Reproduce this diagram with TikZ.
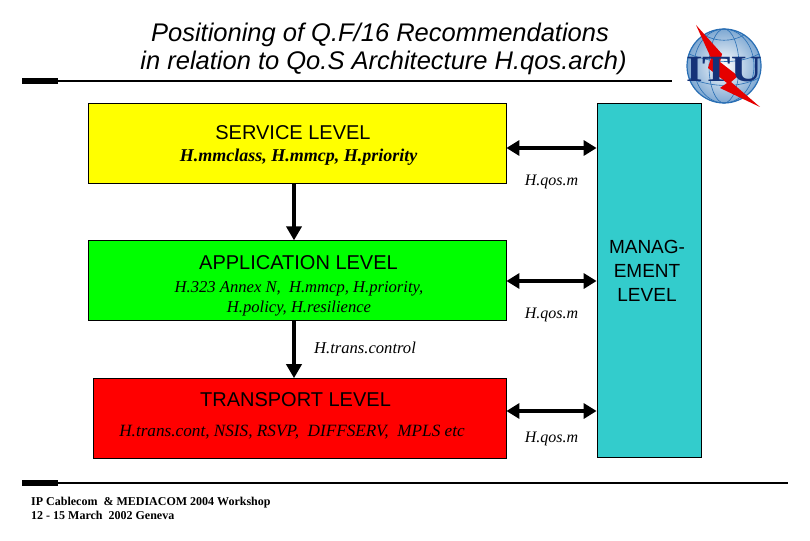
\documentclass[tikz,border=0pt]{standalone}
\usepackage{fontspec}
\setmainfont{Liberation Serif}
\setsansfont{Liberation Sans}
\usetikzlibrary{
arrows.meta,
positioning
}
\definecolor{mgmtcyan}{RGB}{51,204,204}
\definecolor{levelgreen}{RGB}{0,255,0}
\definecolor{levelyellow}{RGB}{255,255,0}
\definecolor{levelred}{RGB}{255,0,0}
\definecolor{itublue}{RGB}{40,110,180}
\definecolor{itunavy}{RGB}{20,50,120}
\tikzset{
  levelbox/.style={shape=rectangle,draw=black,line width=0.8pt,minimum height=80pt,inner sep=0pt},
  leveltitle/.style={font=\sffamily\fontsize{20}{24}\selectfont,inner sep=0pt},
  levelnote/.style={font=\itshape\fontsize{16.6}{20}\selectfont,align=center,inner sep=0pt},
  qosnote/.style={font=\itshape\fontsize{16}{19}\selectfont,inner sep=0pt},
  bothway/.style={{Triangle[width=15pt,length=13pt]}-{Triangle[width=15pt,length=13pt]},line width=4.5pt},
  downway/.style={-{Triangle[width=15pt,length=14pt]},line width=4.5pt},
  rulebar/.style={line width=2pt}
}
\begin{document}
\begin{tikzpicture}[x=1pt,y=-1pt]
    \useasboundingbox (0,0) rectangle (810,540);
    \fill[white] (0,0) rectangle (810,540);
    % title
    \node (title) [font=\sffamily\itshape\fontsize{25.5}{28}\selectfont,align=center,inner sep=0pt] at (383.5,49) {\hspace*{-7pt}Positioning of Q.F/16 Recommendations\\in relation to Qo.S Architecture H.qos.arch)};
    \coordinate (rulea) at (22,81);
    \coordinate (ruleb) at (672,81);
    \draw[rulebar] (rulea) -- (ruleb);
    \fill (22,78) rectangle (58,84);
    % levels
    \node [levelbox,fill=levelyellow,minimum width=418pt] (service) at (297,143) {};
    \node [levelbox,fill=levelgreen,minimum width=418pt,below = 57pt of service] (application) {};
    \node [levelbox,fill=levelred,minimum width=413pt,below = 57pt of application,xshift=2.5pt] (transport) {};
    \node [levelbox,fill=mgmtcyan,minimum width=104pt,minimum height=354pt] (mgmt) at (649,280) {};
    \node [leveltitle] (servicetitle) at (293,133) {SERVICE LEVEL};
    \node [levelnote,font=\bfseries\itshape\fontsize{18}{20}\selectfont] (servicenote) at (298.5,157) {H.mmclass, H.mmcp, H.priority};
    \node [leveltitle] (applicationtitle) at (298.5,263) {APPLICATION LEVEL};
    \node [levelnote] (applicationnote) at (299,298.5) {H.323 Annex N,\ \ H.mmcp, H.priority,\\H.policy, H.resilience};
    \node [leveltitle] (transporttitle) at (295.5,400) {TRANSPORT LEVEL};
    \node [levelnote,font=\itshape\fontsize{17.2}{20}\selectfont] (transportnote) at (292,432) {H.trans.cont, NSIS, RSVP,\ \ DIFFSERV,\ \ MPLS etc};
    \node [font=\sffamily\fontsize{19}{24}\selectfont,align=center,inner sep=0pt] (mgmttitle) at (647,271) {MANAG-\\EMENT\\LEVEL};
    % connectors
    \draw[downway] ([xshift=-3pt]service.south) -- ([xshift=-3pt]application.north);
    \draw[downway] ([xshift=-3pt]application.south) -- (transport.north -| 294,0);
    \draw[bothway] (service.east |- 0,148) -- (mgmt.west |- 0,148);
    \draw[bothway] (application.east |- 0,281) -- (mgmt.west |- 0,281);
    \draw[bothway] (transport.east |- 0,411) -- (mgmt.west |- 0,411);
    \node [qosnote] (qosa) at (551.5,182) {H.qos.m};
    \node [qosnote] (qosb) at (551.5,315) {H.qos.m};
    \node [qosnote] (qosc) at (551.5,439) {H.qos.m};
    \node [levelnote] (control) at (365,348) {H.trans.control};
    % logo
    \begin{scope}[shift={(724,66)}]
      \shade[inner color=white,outer color=itublue!60] (0,0) circle (37);
      \draw[itublue,line width=1.2pt] (0,0) circle (37);
      \draw[itublue,line width=0.6pt] (0,0) ellipse (15 and 37);
      \draw[itublue,line width=0.6pt] (0,0) ellipse (30 and 37);
      \draw[itublue,line width=0.6pt] (-35,-12) .. controls (-10,-2) and (15,-2) .. (35,-12);
      \draw[itublue,line width=0.6pt] (-35,12) .. controls (-10,22) and (15,22) .. (35,12);
      \draw[itublue,line width=0.6pt] (-20,-31) .. controls (-8,-24) and (8,-24) .. (20,-31);
      \fill[red!90!black] (-28,-41) -- (-2,-12) -- (-4,-4) -- (14,10) -- (7,16) -- (36,41) -- (-4,22) -- (3,17) -- (-16,2) -- (-13,-8) -- cycle;
      \node [font=\bfseries\fontsize{37}{37}\selectfont,text=itunavy,inner sep=0pt,xscale=1.15] (itu) at (0,4) {ITU};
    \end{scope}
    % footer
    \coordinate (rulec) at (22,483);
    \coordinate (ruled) at (788,483);
    \draw[rulebar] (rulec) -- (ruled);
    \fill (22,480) rectangle (58,486);
    \node [font=\bfseries\fontsize{12}{14}\selectfont,align=left,anchor=north west,inner sep=0pt] (footer) at (31,497) {IP Cablecom\ \ \& MEDIACOM 2004 Workshop\\12 - 15 March\ \ 2002 Geneva};
  \end{tikzpicture}
\end{document}
